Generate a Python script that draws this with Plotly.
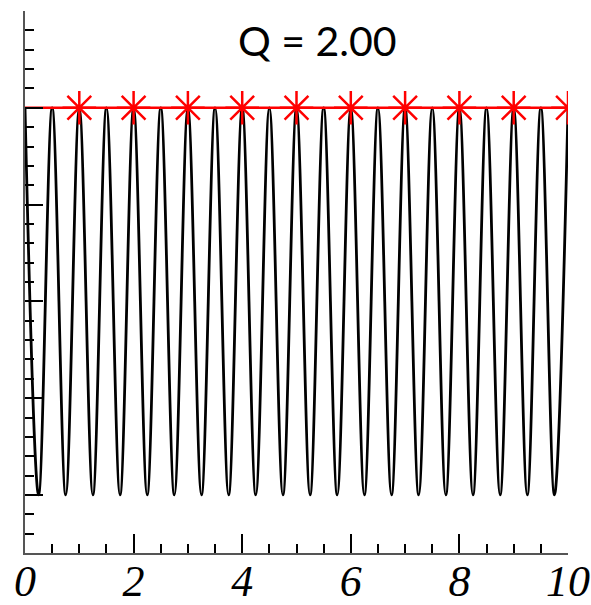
import plotly.graph_objects as go

# Oscillation extrema (peaks at 1, troughs at -1)
t_points = [0, 0.25, 0.5, 0.75, 1.0, 1.25, 1.5, 1.75, 2.0, 2.25, 2.5, 2.75,
            3.0, 3.25, 3.5, 3.75, 4.0, 4.25, 4.5, 4.75, 5.0, 5.25, 5.5, 5.75,
            6.0, 6.25, 6.5, 6.75, 7.0, 7.25, 7.5, 7.75, 8.0, 8.25, 8.5, 8.75,
            9.0, 9.25, 9.5, 9.75, 10.0]
y_points = [1, -1, 1, -1, 1, -1, 1, -1, 1, -1, 1, -1,
            1, -1, 1, -1, 1, -1, 1, -1, 1, -1, 1, -1,
            1, -1, 1, -1, 1, -1, 1, -1, 1, -1, 1, -1,
            1, -1, 1, -1, 1]

envelope_x = [0, 10]
envelope_y = [1, 1]
star_x = [1, 2, 3, 4, 5, 6, 7, 8, 9, 10]
star_y = [1, 1, 1, 1, 1, 1, 1, 1, 1, 1]

title_text = "Q = 2.00"

fig = go.Figure()
fig.add_trace(go.Scatter(x=t_points, y=y_points, mode="lines",
                         line=dict(color="black", width=2.8, shape="spline", smoothing=1.0),
                         showlegend=False, hoverinfo="skip"))
fig.add_trace(go.Scatter(x=envelope_x, y=envelope_y, mode="lines",
                         line=dict(color="red", width=2.5),
                         showlegend=False, hoverinfo="skip"))
fig.add_trace(go.Scatter(x=star_x, y=star_y, mode="markers",
                         marker=dict(symbol="asterisk-open", size=28, color="red",
                                     line=dict(color="red", width=2.5)),
                         showlegend=False, hoverinfo="skip"))

W, H = 591, 605
L, T = 25, 11
R = W - 568
B = H - 553
pw = W - L - R
ph = H - T - B

fig.update_layout(
    width=W, height=H,
    margin=dict(l=L, r=R, t=T, b=B, autoexpand=False),
    paper_bgcolor="white", plot_bgcolor="white",
    hovermode=False,
    xaxis=dict(range=[0, 10], showgrid=False, zeroline=False, automargin=False,
               showline=True, linecolor="#555", linewidth=2,
               ticks="inside", ticklen=19, tickwidth=2, tickcolor="black",
               tick0=0, dtick=2, ticklabelstandoff=-12,
               tickfont=dict(family="Liberation Serif", size=44, color="black",
                             style="italic"),
               minor=dict(ticks="inside", ticklen=9, tickwidth=2, tickcolor="black",
                          dtick=0.5, showgrid=False)),
    yaxis=dict(range=[-1.3, 1.5], showgrid=False, zeroline=False, automargin=False,
               showline=True, linecolor="#555", linewidth=2,
               ticks="inside", ticklen=18, tickwidth=2, tickcolor="black",
               tick0=-1, dtick=0.5, showticklabels=False,
               minor=dict(ticks="inside", ticklen=9, tickwidth=2, tickcolor="black",
                          dtick=0.1, showgrid=False)),
    annotations=[dict(text=title_text,
                      x=(317 - L) / pw, y=1 - (40 - T) / ph,
                      xref="paper", yref="paper",
                      xanchor="center", yanchor="middle",
                      showarrow=False,
                      font=dict(family="Lato", size=41, color="black"))],
)

fig.write_html("out.html",
               config={"displayModeBar": False},
               post_script="document.body.style.margin='0';document.body.style.overflow='hidden';")
